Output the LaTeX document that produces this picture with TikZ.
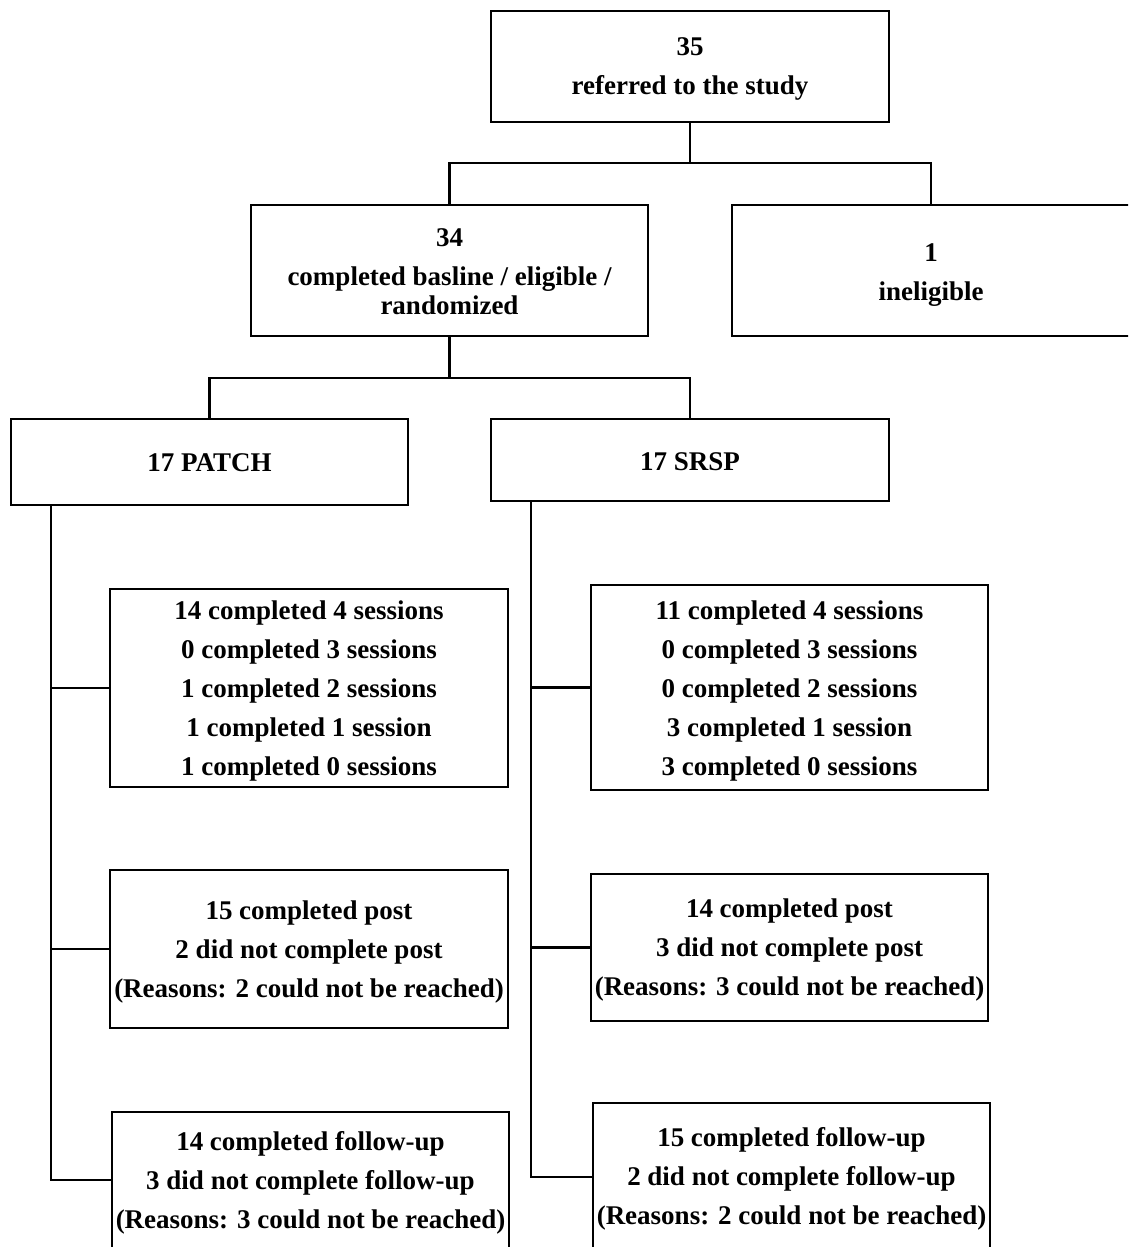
\documentclass[tikz,border=0pt]{standalone}
\usepackage{fontspec}
\setmainfont{Liberation Serif}
\begin{document}
\begin{tikzpicture}[x=1pt,y=-1pt,
  box/.style={draw, line width=2.2pt, rectangle, inner sep=0pt, outer sep=0pt},
  txt/.style={inner sep=0pt, outer sep=0pt, align=center,
    font=\fontsize{27}{39}\selectfont\bfseries},
  conn/.style={line width=2.2pt}]
\useasboundingbox (0,0) rectangle (1128,1247);
\clip (0,0) rectangle (1128,1247);
\fill[white] (0,0) rectangle (1128,1247);
% boxes
\node[box, minimum width=398pt, minimum height=111pt] (top) at (690,66.5) {};
\node[box, minimum width=397pt, minimum height=131pt] (n34) at (449.5,270.5) {};
\node[box, minimum width=398pt, minimum height=131pt] (n1) at (931,270.5) {};
\node[box, minimum width=397pt, minimum height=86pt] (patch) at (209.5,462) {};
\node[box, minimum width=398pt, minimum height=82pt] (srsp) at (690,460) {};
\node[box, minimum width=398pt, minimum height=198pt] (ps) at (309,688) {};
\node[box, minimum width=397pt, minimum height=205pt] (ss) at (789.5,687.5) {};
\node[box, minimum width=398pt, minimum height=158pt] (pp) at (309,949) {};
\node[box, minimum width=397pt, minimum height=147pt] (sp) at (789.5,947.5) {};
\node[box, minimum width=397pt, minimum height=136pt] (pf) at (310.5,1180) {};
\node[box, minimum width=397pt, minimum height=148pt] (sf) at (791.5,1177) {};
% texts
\node[txt] (topT) at ([yshift=-2pt]top.center) {35\\referred to the study};
\node[txt] (n34T) at ([yshift=-1pt]n34.center) {34\\completed basline / eligible /\\[-10pt]randomized};
\node[txt] (n1T) at ([yshift=-5pt]n1.center) {1\\ineligible};
\node[txt] (patchT) at ([yshift=-1pt]patch.center) {17 PATCH};
\node[txt] (srspT) at ([yshift=-2pt]srsp.center) {17 SRSP};
\node[txt] (psT) at ([yshift=-3pt]ps.center) {14 completed 4 sessions\\0 completed 3 sessions\\1 completed 2 sessions\\1 completed 1 session\\1 completed 0 sessions};
\node[txt] (ssT) at ([yshift=-3pt]ss.center) {11 completed 4 sessions\\0 completed 3 sessions\\0 completed 2 sessions\\3 completed 1 session\\3 completed 0 sessions};
\node[txt] (ppT) at ([yshift=-3pt]pp.center) {15 completed post\\2 did not complete post\\(Reasons: 2 could not be reached)};
\node[txt] (spT) at ([yshift=-2pt]sp.center) {14 completed post\\3 did not complete post\\(Reasons: 3 could not be reached)};
\node[txt] (pfT) at ([yshift=-3pt]pf.center) {14 completed follow-up\\3 did not complete follow-up\\(Reasons: 3 could not be reached)};
\node[txt] (sfT) at ([yshift=-2pt]sf.center) {15 completed follow-up\\2 did not complete follow-up\\(Reasons: 2 could not be reached)};
% connectors
\coordinate (j1) at (690,163);
\coordinate (j2) at (449.5,378);
\draw[conn] (top.south) -- (j1);
\draw[conn] (n34.north) |- (j1) -| (n1.north);
\draw[conn] (n34.south) -- (j2);
\draw[conn] (patch.north) |- (j2) -| (srsp.north);
\coordinate (pt) at ([xshift=40pt]patch.south west);
\coordinate (st) at ([xshift=40pt]srsp.south west);
\draw[conn] (pt) |- (pf.west);
\draw[conn] (pt |- ps.west) -- (ps.west);
\draw[conn] (pt |- pp.west) -- (pp.west);
\draw[conn] (st) |- (sf.west);
\draw[conn] (st |- ss.west) -- (ss.west);
\draw[conn] (st |- sp.west) -- (sp.west);
\end{tikzpicture}
\end{document}
